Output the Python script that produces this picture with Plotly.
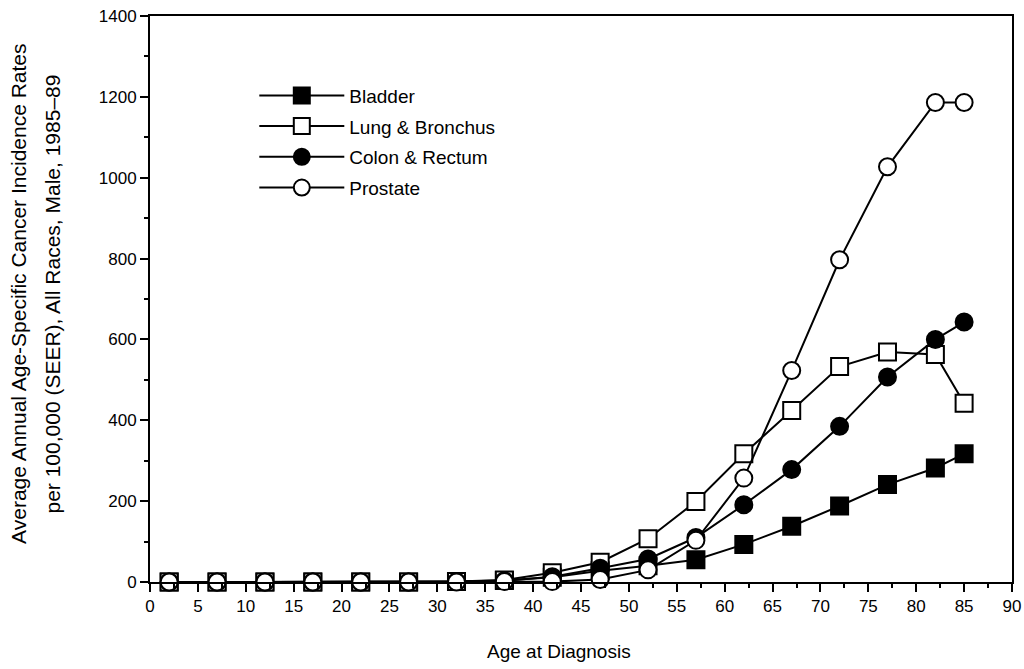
import plotly.graph_objects as go

ages = [2, 7, 12, 17, 22, 27, 32, 37, 42, 47, 52, 57, 62, 67, 72, 77, 82, 85]
bladder = [0, 0, 0, 0, 0, 0, 1, 4, 12, 28, 40, 55, 93, 138, 188, 241, 282, 317]
lung = [0, 0, 0, 0, 0, 0, 1, 5, 23, 49, 107, 199, 317, 424, 533, 569, 563, 442]
colon = [0, 0, 0, 0, 0, 0, 1, 3, 13, 34, 57, 110, 191, 278, 385, 507, 600, 643]
prostate = [0, 0, 0, 0, 0, 0, 0, 1, 1, 6, 30, 103, 257, 523, 797, 1027, 1186, 1186]

series = [
    ("Bladder", bladder, "square", "black"),
    ("Lung & Bronchus", lung, "square", "white"),
    ("Colon & Rectum", colon, "circle", "black"),
    ("Prostate", prostate, "circle", "white"),
]

FONT = "Arial, Liberation Sans, Helvetica, sans-serif"

fig = go.Figure()
for i, (name, vals, sym, fill) in enumerate(series):
    fig.add_trace(go.Scatter(
        x=ages, y=vals, name=name, mode="lines+markers",
        line=dict(color="black", width=2),
        marker=dict(symbol=sym, size=17, color=fill,
                    line=dict(color="black", width=2)),
        cliponaxis=False, legendgroup=f"g{i}",
    ))

fig.update_layout(
    width=1024, height=669,
    margin=dict(l=150, r=12, t=16, b=87),
    paper_bgcolor="white", plot_bgcolor="white",
    font=dict(family=FONT, color="black", size=17),
    showlegend=True,
    legend=dict(x=0.121, y=0.893, xanchor="left", yanchor="top",
                bgcolor="rgba(0,0,0,0)", font=dict(size=19),
                itemwidth=85, tracegroupgap=3, traceorder="grouped"),
    xaxis=dict(range=[0, 90], dtick=5, tick0=0, showgrid=False, zeroline=False,
               automargin=False,
               showline=True, linecolor="black", linewidth=2, mirror=True,
               ticks="outside", ticklen=8, tickwidth=2, tickcolor="black",
               tickfont=dict(size=17),
               minor=dict(dtick=2.5, ticks="outside", ticklen=4,
                          tickwidth=1.5, tickcolor="black")),
    yaxis=dict(range=[0, 1400], dtick=200, tick0=0, showgrid=False, zeroline=False,
               automargin=False,
               showline=True, linecolor="black", linewidth=2, mirror=True,
               ticks="outside", ticklen=8, tickwidth=2, tickcolor="black",
               tickfont=dict(size=17),
               minor=dict(dtick=100, ticks="outside", ticklen=4,
                          tickwidth=1.5, tickcolor="black")),
    annotations=[
        dict(text="Age at Diagnosis", xref="paper", yref="paper",
             x=0.475, y=-0.122, showarrow=False, font=dict(size=19),
             xanchor="center", yanchor="middle"),
        dict(text="Average Annual Age-Specific Cancer Incidence Rates",
             xref="paper", yref="paper", x=-0.152, y=0.509, textangle=-90,
             showarrow=False, font=dict(size=21), xanchor="center", yanchor="middle"),
        dict(text="per 100,000 (SEER), All Races, Male, 1985\u201389",
             xref="paper", yref="paper", x=-0.113, y=0.509, textangle=-90,
             showarrow=False, font=dict(size=21), xanchor="center", yanchor="middle"),
    ],
)

fig.write_html("out.html")
